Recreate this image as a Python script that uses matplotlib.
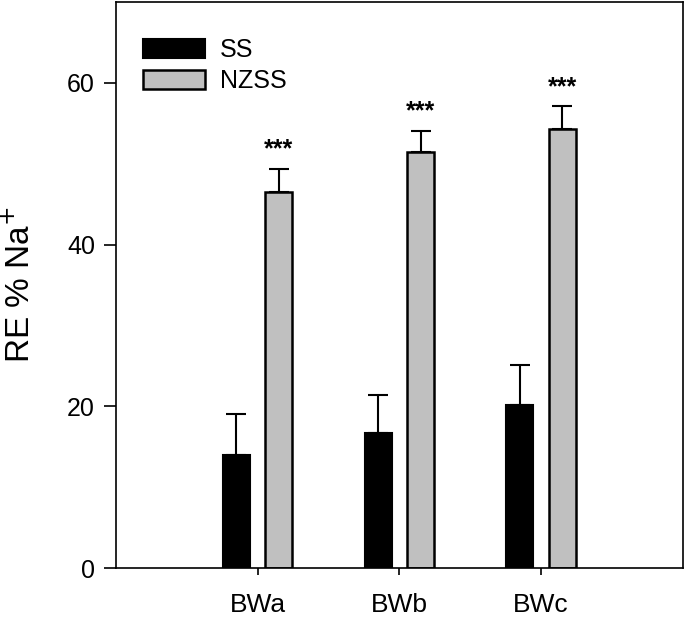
import matplotlib
matplotlib.use("Agg")
import matplotlib.pyplot as plt
import numpy as np

plt.rcParams['font.family'] = ['Liberation Sans', 'DejaVu Sans']

sites = ["BWa", "BWb", "BWc"]
ss = [14.0, 16.7, 20.2]
ss_err = [5.0, 4.7, 4.9]
nzss = [46.5, 51.4, 54.3]
nzss_err = [2.9, 2.7, 2.8]
sig = ["***", "***", "***"]

x = np.arange(1, len(sites) + 1)
w = 0.19
off = 0.15

fig = plt.figure(figsize=(6.85, 6.17), dpi=100)
ax = fig.add_axes([0.169, 0.0794, 0.828, 0.9174])

ekw = dict(ecolor="black", elinewidth=1.5, capsize=7.5, capthick=1.5)
ax.bar(x - off, ss, w, color="black", edgecolor="black", linewidth=1.5,
       yerr=[np.zeros(3), ss_err], error_kw=ekw, label="SS")
ax.bar(x + off, nzss, w, color="#c0c0c0", edgecolor="black", linewidth=1.8,
       yerr=[np.zeros(3), nzss_err], error_kw=ekw, label="NZSS")

for xi, v, e, s in zip(x, nzss, nzss_err, sig):
    ax.annotate(s, (xi + off, v + e), xytext=(0, 5), textcoords="offset points",
                ha="center", va="bottom", fontsize=18, fontweight="bold")

ax.set_xlim(0, 4)
ax.set_ylim(0, 70)
ax.set_xticks(x)
ax.set_xticklabels(sites, fontsize=19)
ax.set_yticks([0, 20, 40, 60])
ax.tick_params(axis="y", direction="out", length=9, width=1.2, labelsize=18, pad=6)
ax.tick_params(axis="x", direction="out", length=5, width=1.2, pad=13)
ax.set_ylabel("RE % Na$^{+}$", fontsize=24, labelpad=22)
for sp in ax.spines.values():
    sp.set_linewidth(1.2)

ax.legend(loc="upper left", bbox_to_anchor=(0.0, 0.985), frameon=False, fontsize=18,
          handlelength=2.45, handleheight=0.8, handletextpad=0.6, labelspacing=0.3,
          borderaxespad=0.7)

plt.savefig("out.png", dpi=100)
